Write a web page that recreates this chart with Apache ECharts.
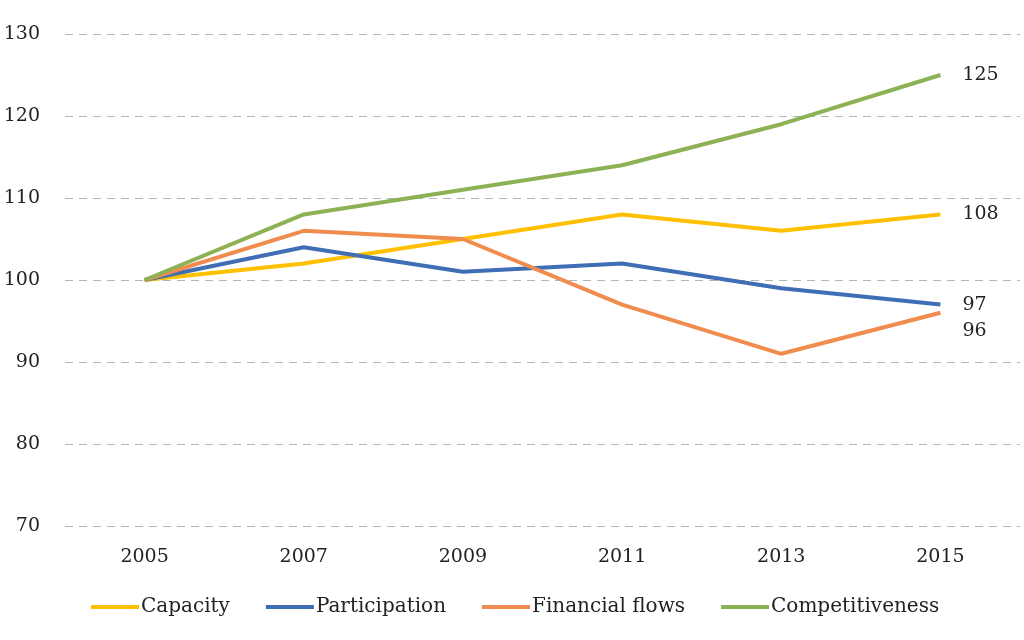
<!DOCTYPE html>
<html>
<head>
    <meta charset="utf-8">
    <title>Index chart</title>
    <script src="https://cdn.jsdelivr.net/npm/echarts@6/dist/echarts.min.js"></script>
    <style>
        html, body { margin: 0; padding: 0; background: #fff; }
        #chart1 { width: 1024px; height: 640px; }
    </style>
</head>
<body>
<div id="chart1"></div>
<script type="text/javascript">
    // 数据
    var years = ['2005', '2007', '2009', '2011', '2013', '2015'];
    var capacity = [100, 102, 105, 108, 106, 108];
    var participation = [100, 104, 101, 102, 99, 97];
    var financialFlows = [100, 106, 105, 97, 91, 96];
    var competitiveness = [100, 108, 111, 114, 119, 125];

    var font = 'DejaVu Serif';

    // dy shifts the end label so 97 / 96 don't overlap
    function line(name, arr, color, dy) {
        return {
            name: name,
            type: 'line',
            data: arr,
            symbol: 'none',
            lineStyle: { width: 4, color: color },
            itemStyle: { color: color },
            endLabel: {
                show: true,
                formatter: '{c}',
                distance: 22,
                offset: [0, dy],
                color: '#222',
                fontFamily: font,
                fontSize: 19
            },
            emphasis: { disabled: true }
        };
    }

    var myChart1 = echarts.init(document.getElementById('chart1'));
    myChart1.setOption({
        animation: false,
        grid: { left: 65, right: 4, top: 34, bottom: 114 },
        legend: {
            bottom: 18,
            left: 86,
            itemWidth: 48,
            itemHeight: 4,
            itemGap: 36,
            icon: 'rect',
            textStyle: { fontFamily: font, fontSize: 20, color: '#222', padding: [0, 0, 0, -3] },
            data: ['Capacity', 'Participation', 'Financial flows', 'Competitiveness']
        },
        xAxis: {
            type: 'category',
            data: years,
            boundaryGap: true,
            axisLine: { show: false },
            axisTick: { show: false },
            axisLabel: { margin: 22, fontFamily: font, fontSize: 19, color: '#222' }
        },
        yAxis: {
            type: 'value',
            min: 70,
            max: 130,
            interval: 10,
            axisLine: { show: false },
            axisTick: { show: false },
            axisLabel: { margin: 25, fontFamily: font, fontSize: 19, color: '#222' },
            splitLine: { lineStyle: { type: [8, 6], color: '#b4b4b4', width: 1 } }
        },
        series: [
            line('Capacity', capacity, '#FFC000', 0),
            line('Participation', participation, '#3F6EB4', 0),
            line('Financial flows', financialFlows, '#F08C4E', 18),
            line('Competitiveness', competitiveness, '#8DB255', 0)
        ]
    });
</script>
</body>
</html>
